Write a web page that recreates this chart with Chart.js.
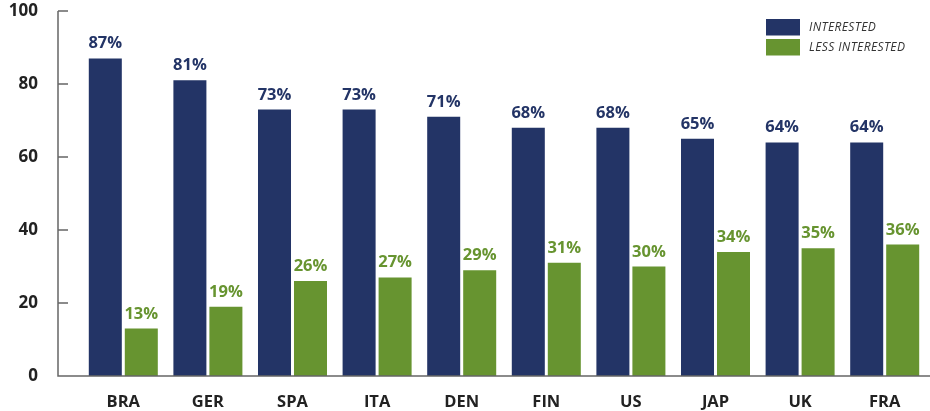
<!DOCTYPE html>
<html>
<head>
<meta charset="utf-8">
<script src="https://cdn.jsdelivr.net/npm/chart.js@4"></script>
<style>
    html, body { margin: 0; padding: 0; background: #fff; overflow: hidden; }
    canvas { display: block; }
</style>
</head>
<body>
<canvas id="interestChart" width="930" height="411"></canvas>
<script>
const countries = ['BRA', 'GER', 'SPA', 'ITA', 'DEN', 'FIN', 'US', 'JAP', 'UK', 'FRA'];
const interested = [87, 81, 73, 73, 71, 68, 68, 65, 64, 64];
const lessInterested = [13, 19, 26, 27, 29, 31, 30, 34, 35, 36];
const seriesNames = ['INTERESTED', 'LESS INTERESTED'];
const yTicks = [0, 20, 40, 60, 80, 100];

const NAVY = '#233466';
const GREEN = '#679430';
const AXIS = '#666666';
const FONT = '"Open Sans", sans-serif';

// axis lines sit a bit left of the first category
const axisPlugin = {
    id: 'axisLines',
    afterDraw(chart) {
        const { ctx, chartArea, scales } = chart;
        const x0 = chartArea.left - 23;
        ctx.save();
        ctx.strokeStyle = AXIS;
        ctx.lineWidth = 1.5;
        ctx.beginPath();
        ctx.moveTo(x0, scales.y.getPixelForValue(100));
        ctx.lineTo(x0, chartArea.bottom);
        ctx.lineTo(chart.width, chartArea.bottom);
        yTicks.forEach(v => {
            const y = scales.y.getPixelForValue(v);
            ctx.moveTo(x0, y);
            ctx.lineTo(x0 + 10, y);
        });
        ctx.stroke();
        ctx.restore();
    }
};

// percentage labels above every bar
const valueLabels = {
    id: 'valueLabels',
    afterDatasetsDraw(chart) {
        const { ctx } = chart;
        ctx.save();
        ctx.font = '700 16.5px ' + FONT;
        ctx.textAlign = 'center';
        ctx.textBaseline = 'alphabetic';
        chart.data.datasets.forEach((ds, i) => {
            ctx.fillStyle = ds.backgroundColor;
            chart.getDatasetMeta(i).data.forEach((bar, j) => {
                ctx.fillText(ds.data[j] + '%', bar.x, bar.y - 10);
            });
        });
        ctx.restore();
    }
};

// stacked legend in the top right corner
const cornerLegend = {
    id: 'cornerLegend',
    afterDraw(chart) {
        const { ctx } = chart;
        ctx.save();
        ctx.font = 'italic 400 12px ' + FONT;
        ctx.textBaseline = 'middle';
        ctx.letterSpacing = '0.4px';
        chart.data.datasets.forEach((ds, i) => {
            const y = 19 + i * 20;
            ctx.fillStyle = ds.backgroundColor;
            ctx.fillRect(766, y, 34, 16.5);
            ctx.fillStyle = '#333';
            ctx.fillText(ds.label, 809, y + 8.5);
        });
        ctx.restore();
    }
};

new Chart(document.getElementById('interestChart'), {
    type: 'bar',
    data: {
        labels: countries,
        datasets: [
            { label: seriesNames[0], data: interested, backgroundColor: NAVY },
            { label: seriesNames[1], data: lessInterested, backgroundColor: GREEN }
        ]
    },
    options: {
        responsive: false,
        animation: false,
        devicePixelRatio: 1,
        categoryPercentage: 0.851,
        barPercentage: 0.917,
        layout: { padding: { top: 11, right: 3, left: 0, bottom: 0 } },
        plugins: {
            legend: { display: false },
            tooltip: { enabled: false }
        },
        scales: {
            x: {
                grid: { display: false, drawTicks: false },
                border: { display: false },
                ticks: {
                    padding: 16,
                    color: '#222',
                    font: { family: FONT, size: 16.5, weight: '700' }
                },
                afterFit(scale) { scale.height = 35; }
            },
            y: {
                min: 0,
                max: 100,
                afterBuildTicks(scale) { scale.ticks = yTicks.map(v => ({ value: v })); },
                grid: { display: false, drawTicks: false },
                border: { display: false },
                ticks: {
                    padding: 43,
                    color: '#222',
                    font: { family: FONT, size: 17, weight: '700' }
                },
                // the big label padding should not push the plot down
                afterFit(scale) {
                    scale.width = 81;
                    scale.paddingTop = 0;
                    scale.paddingBottom = 0;
                }
            }
        }
    },
    plugins: [axisPlugin, valueLabels, cornerLegend]
});
</script>
</body>
</html>
